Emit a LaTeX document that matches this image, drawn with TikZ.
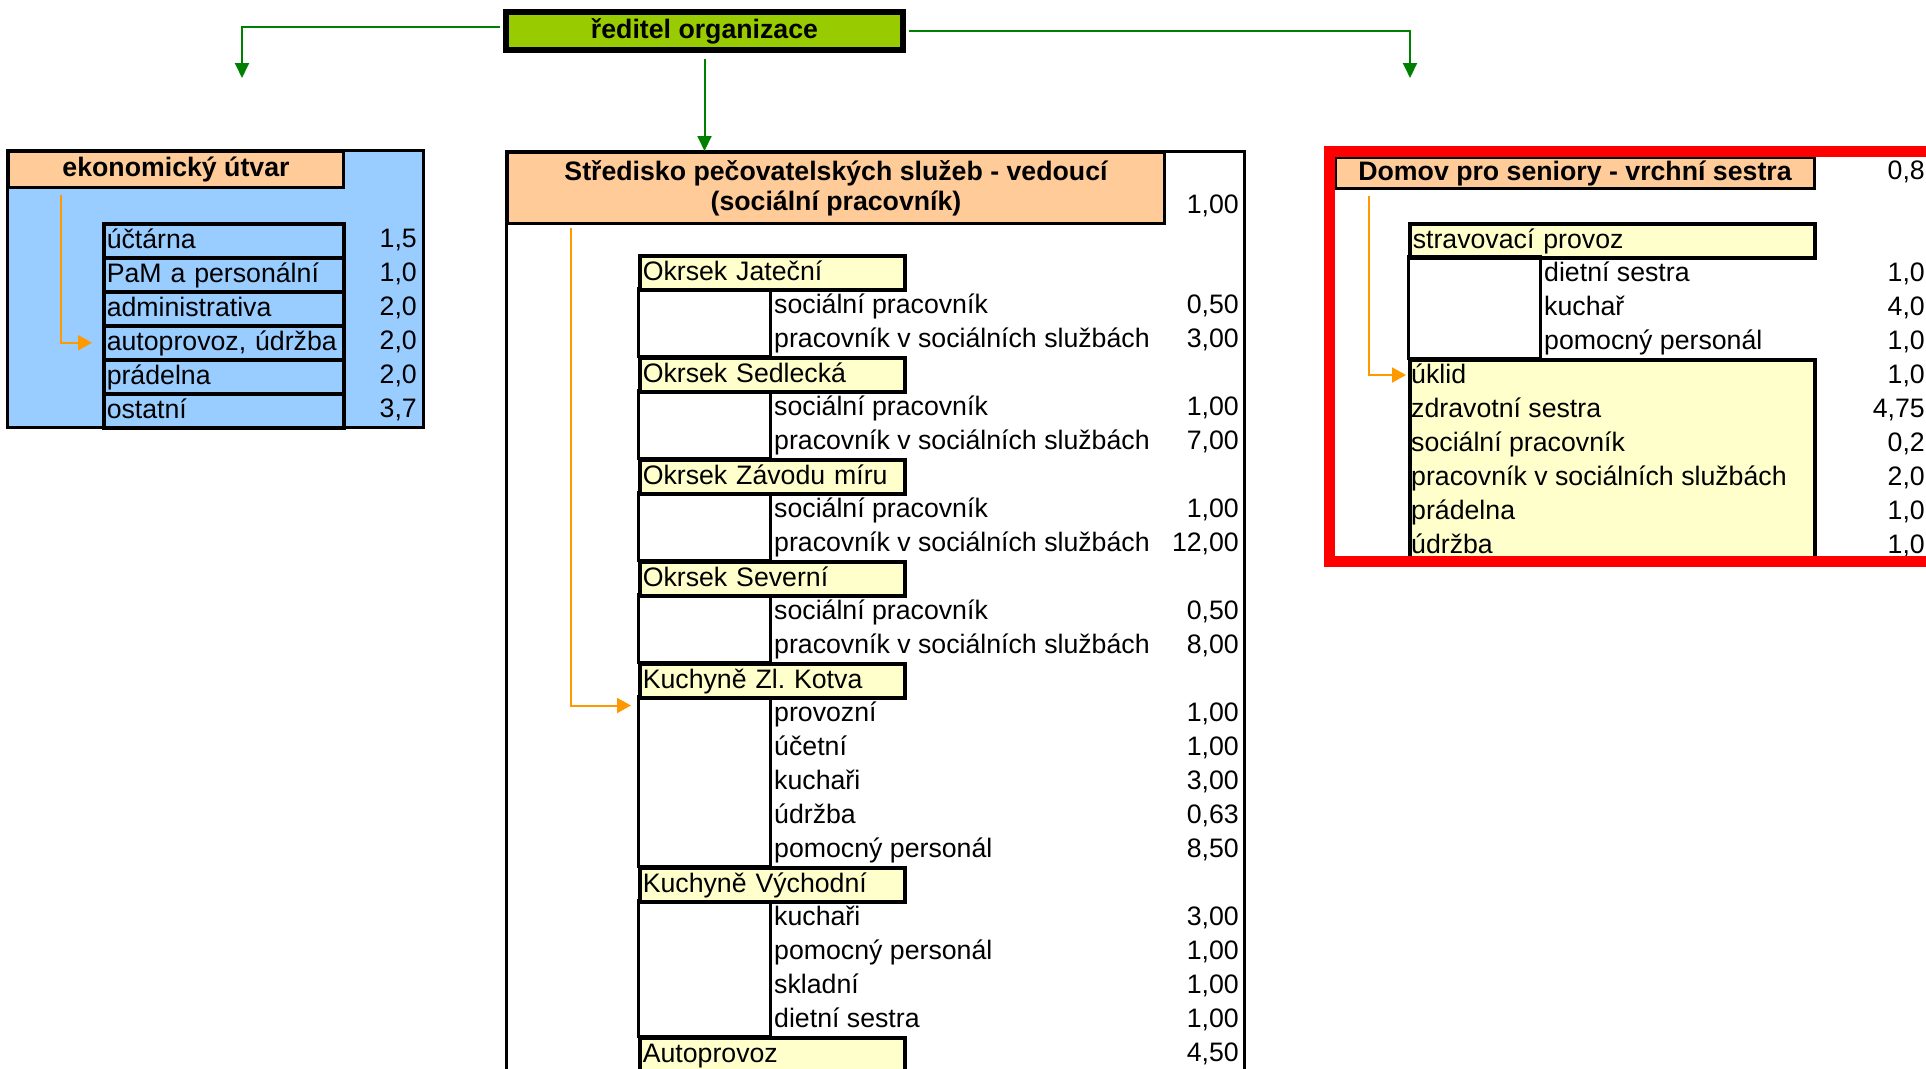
\documentclass[tikz,border=0pt]{standalone}
\usepackage{fontspec}
\setmainfont{Liberation Sans}
\usepackage{tikz}
\usetikzlibrary{arrows.meta,positioning,calc}
\definecolor{chiefGreen}{HTML}{99CC00}
\definecolor{headOrange}{HTML}{FFCC99}
\definecolor{ekoBlue}{HTML}{99CCFF}
\definecolor{unitYellow}{HTML}{FFFFCC}
\definecolor{flowOrange}{HTML}{FF9900}
\definecolor{linkGreen}{HTML}{008000}
\newcommand{\myRowFont}{\fontsize{26.7}{30}\selectfont}
\frenchspacing

\begin{document}
\begin{tikzpicture}[x=1pt,y=-1pt,>={Triangle[length=15pt,width=14pt]},
	Link/.style={->,linkGreen,line width=2pt},
	Flow/.style={->,flowOrange,line width=2pt,>={Triangle[length=14pt,width=15pt]}},
	Chief/.style={rectangle,draw=black,line width=6pt,fill=chiefGreen,font=\myRowFont\bfseries,minimum width=397pt,minimum height=38pt,text height=20pt,text depth=6pt},
	Head/.style={rectangle,anchor=north west,draw=black,line width=3pt,fill=headOrange,font=\myRowFont\bfseries,align=center,inner sep=0pt},
	Frame/.style={draw=black,line width=3pt},
	Row/.style={rectangle,anchor=north west,draw=black,line width=3.5pt,minimum height=34pt,inner sep=3pt,text height=21pt,text depth=5pt,align=left,font=\myRowFont},
	Unit/.style={Row,fill=unitYellow,text width=259pt},
	Item/.style={anchor=west,inner sep=0pt,text height=21pt,text depth=5pt,font=\myRowFont},
	Num/.style={anchor=east,inner sep=0pt,text height=21pt,text depth=5pt,font=\myRowFont},
]
	\useasboundingbox[fill=white] (0,0) rectangle (1926,1068);
	%\draw[help lines,step=50pt,gray!20] (0,0) grid (1926,1068);
	\node[Chief] (Dir) at (704.5,31) {ředitel organizace};
	
	% ekonomicky utvar
	\draw[Frame,fill=ekoBlue] (7,150) rectangle (423,427);
	\node[Head,minimum width=335pt,minimum height=36pt] (EH) at (7,150) {ekonomický útvar};
	\node[Row,text width=234pt] (E1) at (102,222) {účtárna};
	\node[Row,text width=234pt] (E2) at (102,256) {PaM a personální};
	\node[Row,text width=234pt] (E3) at (102,290) {administrativa};
	\node[Row,text width=234pt] (E4) at (102,324) {autoprovoz, údržba};
	\node[Row,text width=234pt] (E5) at (102,358) {prádelna};
	\node[Row,text width=234pt] (E6) at (102,392) {ostatní};
	\node[Num] (EN1) at (417,239) {1,5};
	\node[Num] (EN2) at (417,273) {1,0};
	\node[Num] (EN3) at (417,307) {2,0};
	\node[Num] (EN4) at (417,341) {2,0};
	\node[Num] (EN5) at (417,375) {2,0};
	\node[Num] (EN6) at (417,409) {3,7};
	
	% stredisko
	\draw[Frame,fill=white] (506,151) rectangle (1244,1090);
	\node[Head,minimum width=657pt,minimum height=71pt] (SH) at (506,151) {Středisko pečovatelských služeb - vedoucí\\(sociální pracovník)};
	\node[Num] (SN0) at (1239,205) {1,00};
	\draw[Frame] (638,288) rectangle (770,356);
	\draw[Frame] (638,390) rectangle (770,458);
	\draw[Frame] (638,492) rectangle (770,560);
	\draw[Frame] (638,594) rectangle (770,662);
	\draw[Frame] (638,696) rectangle (770,866);
	\draw[Frame] (638,900) rectangle (770,1036);
	\node[Unit] (U1) at (638,254) {Okrsek Jateční};
	\node[Unit] (U2) at (638,356) {Okrsek Sedlecká};
	\node[Unit] (U3) at (638,458) {Okrsek Závodu míru};
	\node[Unit] (U4) at (638,560) {Okrsek Severní};
	\node[Unit] (U5) at (638,662) {Kuchyně Zl. Kotva};
	\node[Unit] (U6) at (638,866) {Kuchyně Východní};
	\node[Unit] (U7) at (638,1036) {Autoprovoz};
	\node[Item] (T1) at (774,305) {sociální pracovník};
	\node[Item] (T2) at (774,339) {pracovník v sociálních službách};
	\node[Item] (T3) at (774,407) {sociální pracovník};
	\node[Item] (T4) at (774,441) {pracovník v sociálních službách};
	\node[Item] (T5) at (774,509) {sociální pracovník};
	\node[Item] (T6) at (774,543) {pracovník v sociálních službách};
	\node[Item] (T7) at (774,611) {sociální pracovník};
	\node[Item] (T8) at (774,645) {pracovník v sociálních službách};
	\node[Item] (T9) at (774,713) {provozní};
	\node[Item] (T10) at (774,747) {účetní};
	\node[Item] (T11) at (774,781) {kuchaři};
	\node[Item] (T12) at (774,815) {údržba};
	\node[Item] (T13) at (774,849) {pomocný personál};
	\node[Item] (T14) at (774,917) {kuchaři};
	\node[Item] (T15) at (774,951) {pomocný personál};
	\node[Item] (T16) at (774,985) {skladní};
	\node[Item] (T17) at (774,1019) {dietní sestra};
	\node[Num] (N1) at (1239,305) {0,50};
	\node[Num] (N2) at (1239,339) {3,00};
	\node[Num] (N3) at (1239,407) {1,00};
	\node[Num] (N4) at (1239,441) {7,00};
	\node[Num] (N5) at (1239,509) {1,00};
	\node[Num] (N6) at (1239,543) {12,00};
	\node[Num] (N7) at (1239,611) {0,50};
	\node[Num] (N8) at (1239,645) {8,00};
	\node[Num] (N9) at (1239,713) {1,00};
	\node[Num] (N10) at (1239,747) {1,00};
	\node[Num] (N11) at (1239,781) {3,00};
	\node[Num] (N12) at (1239,815) {0,63};
	\node[Num] (N13) at (1239,849) {8,50};
	\node[Num] (N14) at (1239,917) {3,00};
	\node[Num] (N15) at (1239,951) {1,00};
	\node[Num] (N16) at (1239,985) {1,00};
	\node[Num] (N17) at (1239,1019) {1,00};
	\node[Num] (N18) at (1239,1053) {4,50};
	
	% domov pro seniory
	\node[Head,minimum width=479pt,minimum height=31pt] (DH) at (1334,156) {Domov pro seniory - vrchní sestra};
	\node[Num] (DN0) at (1925,171) {0,8};
	\node[Unit,text width=399pt] (D1) at (1408,222) {stravovací provoz};
	\draw[Frame] (1408,256) rectangle (1540,358);
	\node[Unit,text width=399pt,minimum height=203pt] (D2) at (1408,358) {};
	\node[Item] (D3) at (1544,273) {dietní sestra};
	\node[Item] (D4) at (1544,307) {kuchař};
	\node[Item] (D5) at (1544,341) {pomocný personál};
	\node[Item] (D6) at (1411,375) {úklid};
	\node[Item] (D7) at (1411,409) {zdravotní sestra};
	\node[Item] (D8) at (1411,443) {sociální pracovník};
	\node[Item] (D9) at (1411,477) {pracovník v sociálních službách};
	\node[Item] (D10) at (1411,511) {prádelna};
	\node[Item] (D11) at (1411,545) {údržba};
	\node[Num] (DN1) at (1925,273) {1,0};
	\node[Num] (DN2) at (1925,307) {4,0};
	\node[Num] (DN3) at (1925,341) {1,0};
	\node[Num] (DN4) at (1925,375) {1,0};
	\node[Num] (DN5) at (1925,409) {4,75};
	\node[Num] (DN6) at (1925,443) {0,2};
	\node[Num] (DN7) at (1925,477) {2,0};
	\node[Num] (DN8) at (1925,511) {1,0};
	\node[Num] (DN9) at (1925,545) {1,0};
	\draw[red,line width=11pt] (1329,151) rectangle (1931,561);
	
	% connectors
	\coordinate (EkoTip) at (242,78);
	\coordinate (DomTip) at (1410,78);
	\draw[Link,shorten <=3pt] ([yshift=4pt]Dir.west) -| (EkoTip);
	\draw[Link,shorten <=3pt] (Dir.east) -| (DomTip);
	\draw[Link] ([yshift=-6pt]Dir.south) -- (Dir.south |- SH.north);
	\draw[Flow] ($(EH.south west)+(54,6)$) |- ([xshift=-10pt]E4.west);
	\draw[Flow] ($(SH.south west)+(65,3)$) |- ([xshift=-7pt,yshift=-6pt]U5.south west);
	\draw[Flow] ($(DH.south west)+(35,6)$) |- ([xshift=-5pt]D6.west);
\end{tikzpicture}
\end{document}
